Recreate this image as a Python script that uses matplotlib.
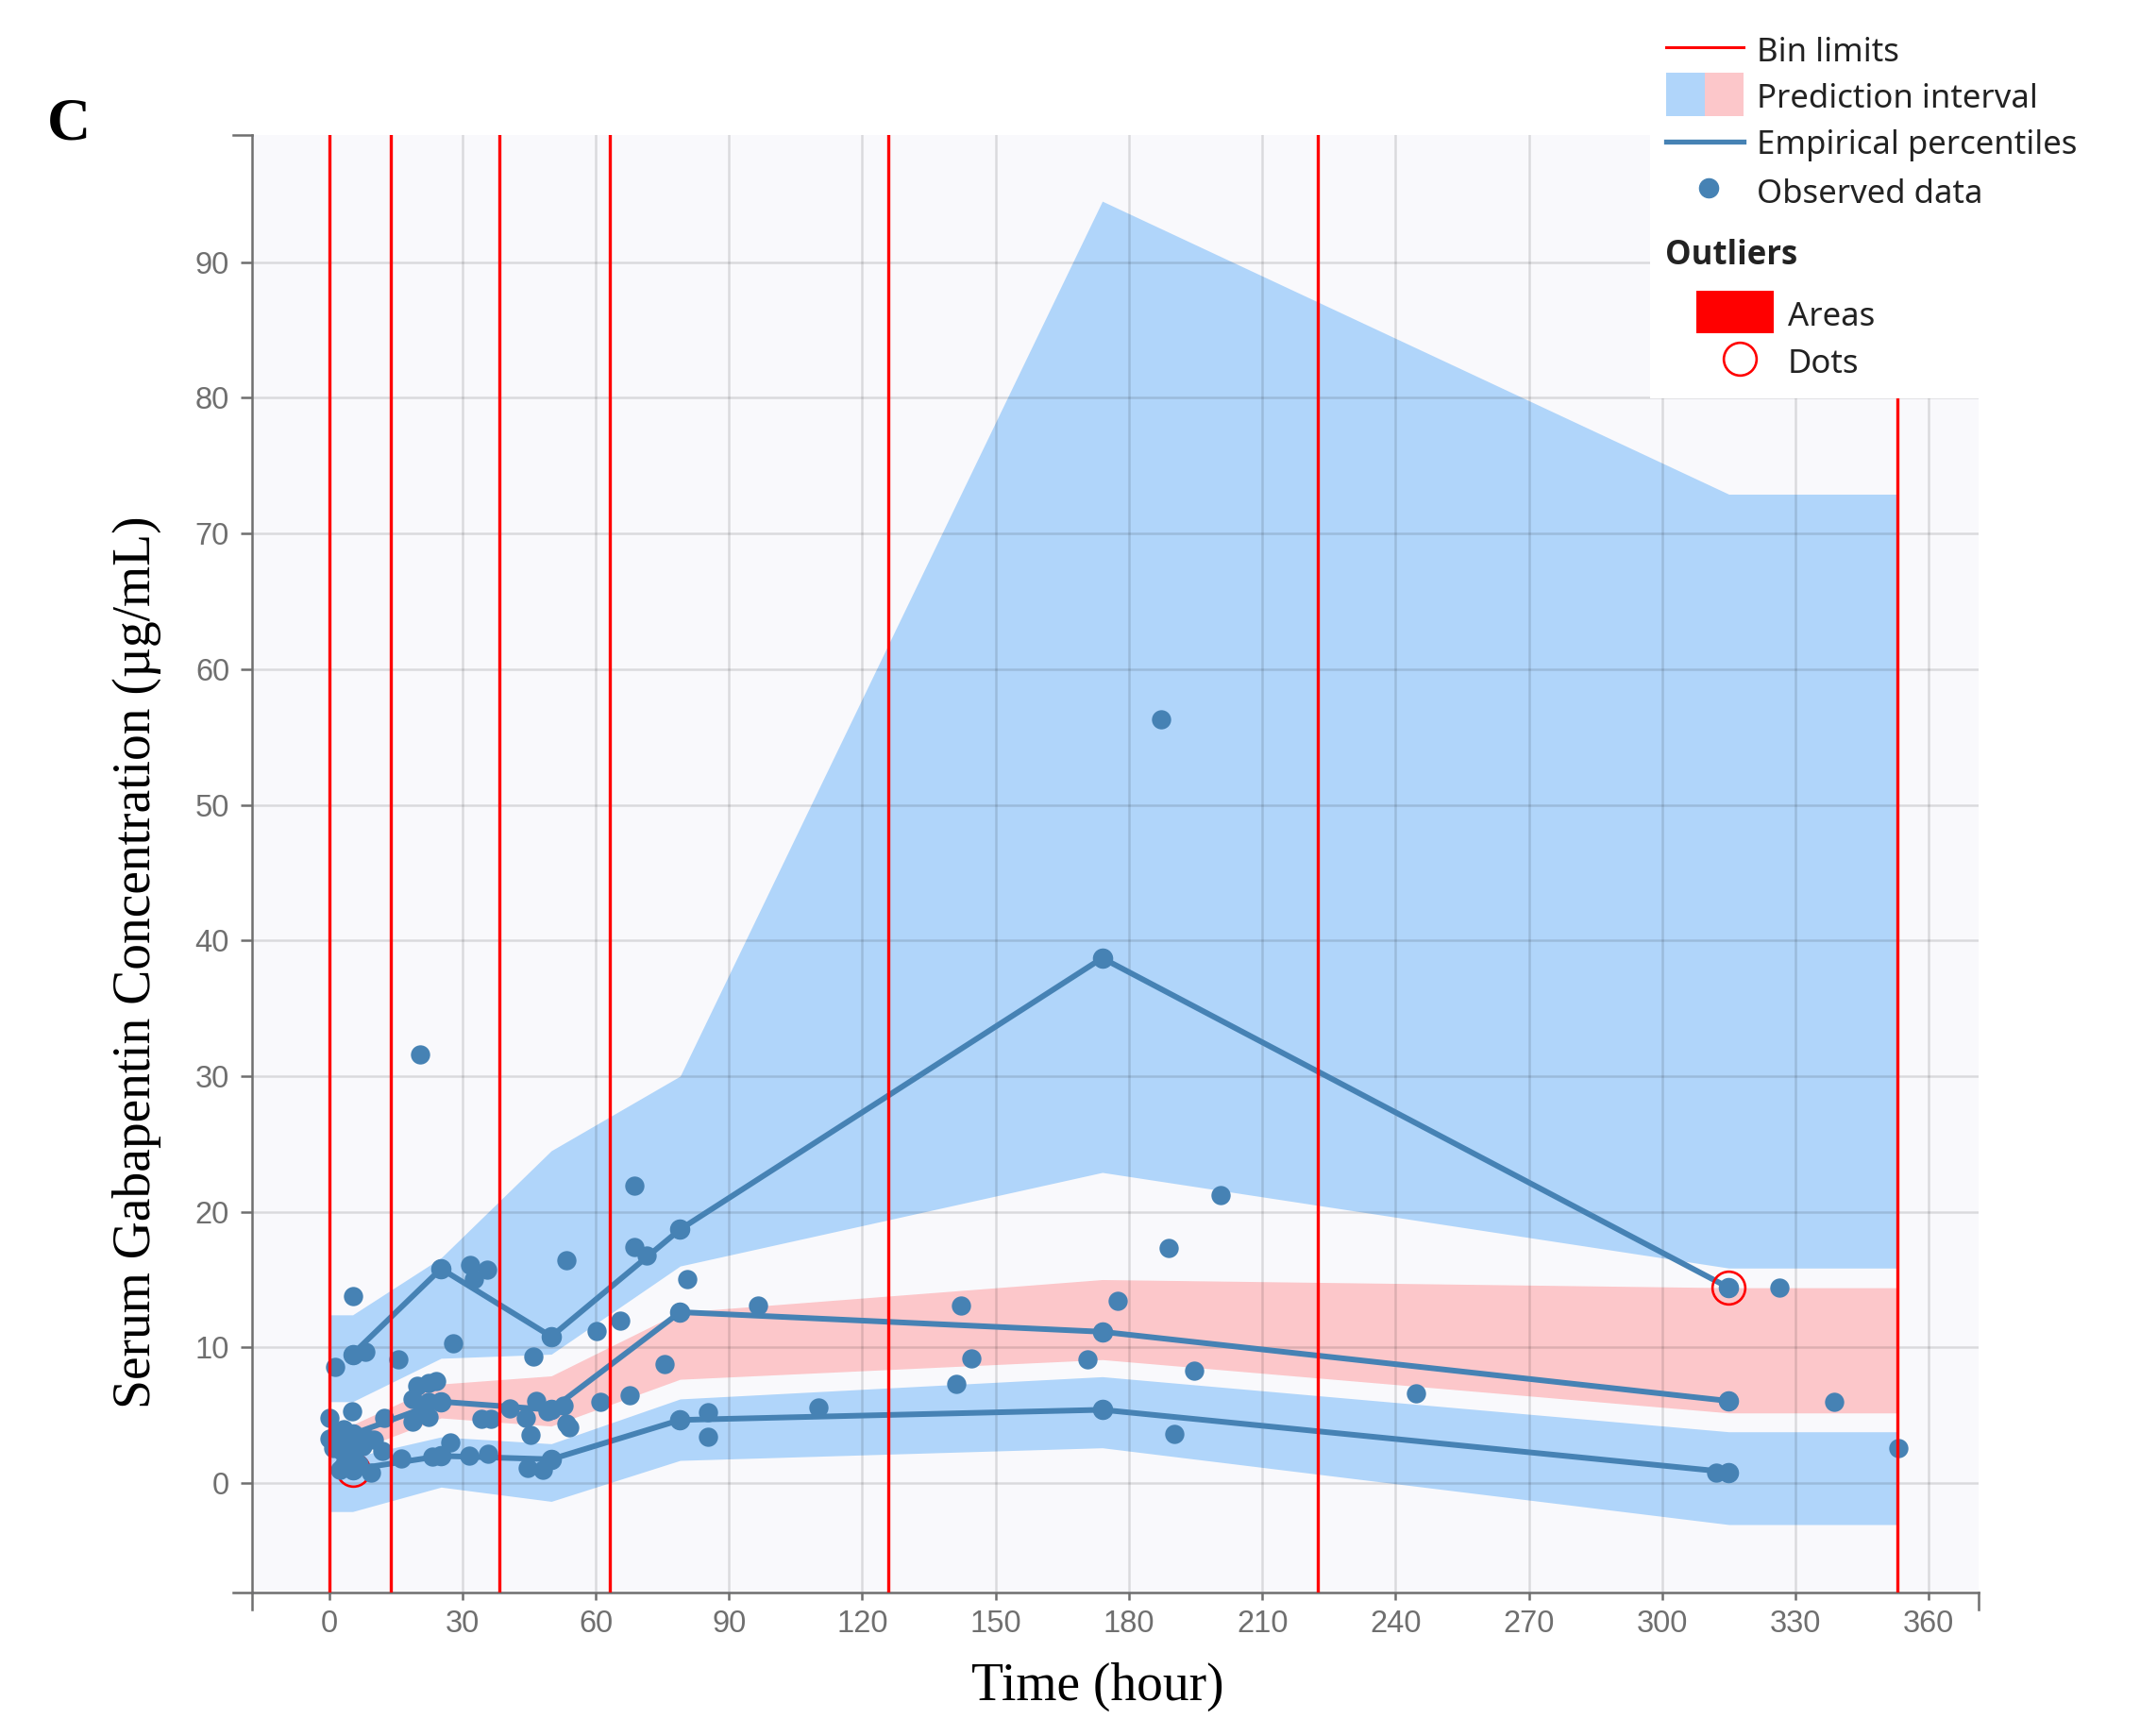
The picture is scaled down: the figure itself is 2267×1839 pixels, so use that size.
import numpy as np
import matplotlib
matplotlib.use("Agg")
import matplotlib.pyplot as plt
from matplotlib.patches import Rectangle
from matplotlib.lines import Line2D

# ---------------- data ----------------
bin_limits = [0.0, 13.8, 38.3, 63.2, 125.9, 222.6, 352.9]
bin_centers = [5.3, 25.2, 50.0, 79.0, 174.0, 315.0]

# prediction intervals (values at bin centers)
pi_upper_hi = [12.4, 16.6, 24.5, 30.0, 94.5, 72.9]
pi_upper_lo = [6.0, 9.2, 9.5, 16.0, 22.9, 15.85]
pi_median_hi = [4.3, 7.3, 7.9, 12.6, 15.0, 14.4]
pi_median_lo = [2.3, 4.8, 4.2, 7.65, 9.1, 5.17]
pi_lower_hi = [1.9, 3.4, 2.9, 6.2, 7.84, 3.78]
pi_lower_lo = [-2.1, -0.3, -1.35, 1.67, 2.6, -3.06]

# empirical percentiles
emp_upper = [9.5, 15.8, 10.8, 18.7, 38.7, 14.4]
emp_median = [3.6, 6.0, 5.4, 12.6, 11.15, 6.05]
emp_lower = [1.0, 2.0, 1.75, 4.65, 5.4, 0.8]

# outlier dots
outlier_x = [5.3, 315.0]
outlier_y = [1.0, 14.4]

# observed data
obs_time = [1.4, 5.3, 8.1, 15.5, 20.5, 27.9, 31.8, 32.5, 35.6, 53.4,
            68.6, 68.8, 71.4, 80.7, 46.0, 60.2, 65.5, 75.4, 67.6, 61.1,
            0.0, 5.1, 12.5, 0.0, 19.8, 22.3, 24.0, 18.7, 18.7, 22.3,
            22.3, 21.0, 34.3, 36.4, 40.7, 44.2, 45.3, 46.7, 49.2, 52.7,
            53.4, 54.1, 12.0, 16.3, 23.3, 27.2, 31.5, 35.7, 44.6, 48.1,
            9.5, 1.0, 1.5, 2.4, 2.8, 3.2, 3.8, 4.3, 5.5, 6.3,
            6.7, 7.5, 8.6, 10.0, 3.0,
            85.3, 85.3, 96.6, 110.1, 142.1, 141.2, 144.5, 170.7, 177.5, 187.2,
            189.0, 190.3, 194.6, 200.7, 244.6, 312.1, 326.4, 338.6, 353.1]
obs_conc = [8.55, 13.76, 9.7, 9.1, 31.6, 10.3, 16.1, 15.0, 15.7, 16.4,
            21.9, 17.4, 16.8, 15.0, 9.35, 11.2, 12.0, 8.77, 6.45, 6.0,
            4.8, 5.29, 4.82, 3.3, 7.2, 7.4, 7.5, 6.2, 4.5, 6.0,
            4.85, 5.3, 4.7, 4.7, 5.52, 4.82, 3.55, 6.07, 5.3, 5.7,
            4.4, 4.1, 2.39, 1.81, 1.93, 2.98, 2.0, 2.16, 1.1, 0.98,
            0.76, 2.6, 3.6, 1.0, 2.4, 4.0, 1.6, 3.0, 2.0, 3.4,
            1.4, 2.7, 3.3, 3.2, 1.2,
            5.25, 3.4, 13.1, 5.6, 13.1, 7.3, 9.2, 9.15, 13.4, 56.3,
            17.3, 3.6, 8.3, 21.2, 6.6, 0.8, 14.4, 6.0, 2.6]

x_ticks = [0, 30, 60, 90, 120, 150, 180, 210, 240, 270, 300, 330, 360]
y_ticks = [0, 10, 20, 30, 40, 50, 60, 70, 80, 90]

# ---------------- style ----------------
W, H = 2267, 1839
BLUE = '#b0d5fa'
PINK = '#fcc7ca'
LINE = '#4682b4'
AXC = '#6f6f6f'
BG = '#f9f9fc'

fig = plt.figure(figsize=(W / 100, H / 100), dpi=100)
fig.patch.set_facecolor('white')

L, R, T, B = 266.7, 2095.5, 142.7, 1686.7
ax = fig.add_axes([L / W, 1 - B / H, (R - L) / W, (B - T) / H])
ax.set_facecolor(BG)
ax.set_xlim(-17.4, 371.1)
ax.set_ylim(-8.05, 99.4)

# bands extended flat to the outer bin limits
bx = np.r_[bin_limits[0], bin_centers, bin_limits[-1]]
def ext(v):
    return np.r_[v[0], v, v[-1]]

for lo, hi, col in [(pi_upper_lo, pi_upper_hi, BLUE),
                    (pi_median_lo, pi_median_hi, PINK),
                    (pi_lower_lo, pi_lower_hi, BLUE)]:
    ax.fill_between(bx, ext(lo), ext(hi), color=col, lw=0, zorder=1)

ax.set_axisbelow('line')
ax.grid(True, color='black', alpha=0.12, lw=1.8)

for p in (emp_upper, emp_median, emp_lower):
    ax.plot(bin_centers, p, color=LINE, lw=4.3, marker='o', ms=14.5,
            zorder=3, solid_capstyle='round')

ax.plot(outlier_x, outlier_y, ls='none', marker='o', ms=25, mfc='none',
        mec='red', mew=1.9, zorder=3.5)

ax.scatter(obs_time, obs_conc, s=215, color=LINE, lw=0, zorder=4)

for b in bin_limits:
    ax.axvline(b, color='red', lw=2.4, zorder=5)

# axes styling
for s in ('top', 'right'):
    ax.spines[s].set_visible(False)
for s in ('left', 'bottom'):
    ax.spines[s].set_color(AXC)
    ax.spines[s].set_linewidth(1.8)
ax.set_xticks(x_ticks)
ax.set_yticks(y_ticks)
ax.tick_params(axis='x', length=5.5, width=1.8, color=AXC, pad=8,
               labelsize=23.5, labelcolor=AXC)
ax.tick_params(axis='y', length=8.4, width=1.8, color=AXC, pad=8.6,
               labelsize=23.5, labelcolor=AXC)
for lab in ax.get_xticklabels() + ax.get_yticklabels():
    lab.set_family('Liberation Sans')

ax.set_xlabel('Time (hour)', family='Liberation Serif', fontsize=40,
              va='center')
ax.xaxis.set_label_coords((1163 - L) / (R - L), (B - 1787) / (B - T))
ax.set_ylabel('Serum Gabapentin Concentration (µg/mL)',
              family='Liberation Serif', fontsize=40, va='center',
              rotation_mode='default')
ax.yaxis.set_label_coords((145 - L) / (R - L), (B - 1018.7) / (B - T))

def fx(px):
    return px / W

def fy(py):
    return 1 - py / H

def fline(xs, ys, **kw):
    fig.add_artist(Line2D([fx(v) for v in xs], [fy(v) for v in ys],
                          transform=fig.transFigure, **kw))

# outer (end) ticks of the axes
fline([L - 20, L], [T, T], color=AXC, lw=1.8, zorder=2)
fline([L - 20, L], [B, B], color=AXC, lw=1.8, zorder=2)
fline([L, L], [B, B + 18], color=AXC, lw=1.8, zorder=2)
fline([R, R], [B, B + 18], color=AXC, lw=1.8, zorder=2)

# panel letter
fig.text(fx(50), fy(148), 'C', family='Liberation Serif', weight='bold',
         fontsize=46, ha='left', va='baseline')

# ---------------- legend ----------------
fig.add_artist(Rectangle((fx(1748), fy(421.7)), 482 / W, 400 / H,
                         transform=fig.transFigure, facecolor='white',
                         edgecolor='none', zorder=10))
fline([1765, 1847], [50, 50], color='red', lw=2.2, zorder=11)
fig.add_artist(Rectangle((fx(1765), fy(123)), 41 / W, 46 / H,
                         transform=fig.transFigure, facecolor=BLUE,
                         edgecolor='none', zorder=11))
fig.add_artist(Rectangle((fx(1806), fy(123)), 41 / W, 46 / H,
                         transform=fig.transFigure, facecolor=PINK,
                         edgecolor='none', zorder=11))
fline([1765, 1847], [150, 150], color=LINE, lw=3.8, zorder=11)
fline([1810], [199], color=LINE, ls='none', marker='o', ms=14.5, zorder=11)
fig.add_artist(Rectangle((fx(1797), fy(353)), 82 / W, 45 / H,
                         transform=fig.transFigure, facecolor='red',
                         edgecolor='none', zorder=11))
fline([1843], [380], ls='none', marker='o', ms=25, mfc='none', mec='red',
      mew=1.9, zorder=11)

txt_kw = dict(fontsize=25, color='#222222', ha='left', va='baseline',
              zorder=12)
fig.text(fx(1861), fy(65), 'Bin limits', family='Noto Sans', **txt_kw)
fig.text(fx(1861), fy(114), 'Prediction interval', family='Noto Sans', **txt_kw)
fig.text(fx(1861), fy(163), 'Empirical percentiles', family='Noto Sans', **txt_kw)
fig.text(fx(1861), fy(215), 'Observed data', family='Noto Sans', **txt_kw)
fig.text(fx(1764), fy(280), 'Outliers', family='Open Sans', weight='bold',
         **txt_kw)
fig.text(fx(1894), fy(345), 'Areas', family='Noto Sans', **txt_kw)
fig.text(fx(1894), fy(395), 'Dots', family='Noto Sans', **txt_kw)

fig.savefig('out.png', dpi=100, facecolor='white')
